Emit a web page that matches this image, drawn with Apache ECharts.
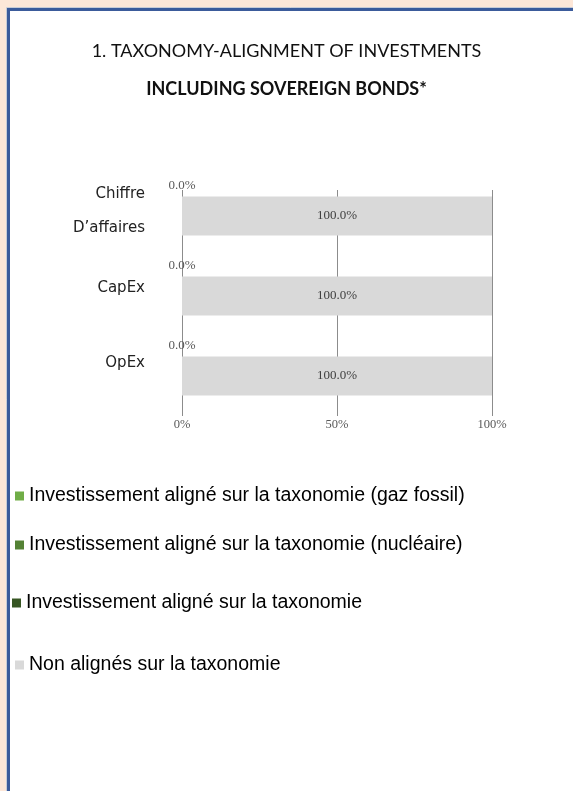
<!DOCTYPE html>
<html>
<head>
<meta charset="utf-8">
<script src="https://cdn.jsdelivr.net/npm/echarts@6/dist/echarts.min.js"></script>
<style>
  html, body { margin: 0; padding: 0; }
  #taxoChart { width: 573px; height: 791px; }
</style>
</head>
<body>
<div id="taxoChart"></div>
<script>
// categories (top to bottom) and shares in %
const categories = ["Chiffre\nD\u2019affaires", "CapEx", "OpEx"];
const gazFossil = [0, 0, 0];
const nucleaire = [0, 0, 0];
const aligne = [0, 0, 0];
const nonAligne = [100, 100, 100];
const tickLabels = ["0%", "50%", "100%"];

const seriesNames = [
  "Investissement aligné sur la taxonomie (gaz fossil)",
  "Investissement aligné sur la taxonomie (nucléaire)",
  "Investissement aligné sur la taxonomie",
  "Non alignés sur la taxonomie"
];

let chart = echarts.init(document.getElementById("taxoChart"));

function pct(p) {
  return p.value.toFixed(1) + "%";
}

function legendAt(name, left, top) {
  return {
    data: [name],
    orient: "vertical",
    left: left,
    top: top,
    icon: "rect",
    itemWidth: 9,
    itemHeight: 9,
    selectedMode: false,
    textStyle: {
      fontFamily: "Liberation Sans",
      fontSize: 19.5,
      color: "#000"
    }
  };
}

const option = {
  backgroundColor: "#fde7d8",
  animation: false,
  graphic: [
    {
      type: "rect",
      z: -10,
      shape: { x: 6.5, y: 7.5, width: 800, height: 900 },
      style: { fill: "none", stroke: "#c8ccd6", lineWidth: 1 }
    },
    {
      type: "rect",
      z: -9,
      shape: { x: 8.5, y: 9.5, width: 800, height: 900 },
      style: { fill: "#fff", stroke: "#3b5b9b", lineWidth: 3 }
    }
  ],
  title: {
    text: "1. TAXONOMY-ALIGNMENT OF INVESTMENTS",
    subtext: "INCLUDING SOVEREIGN BONDS*",
    left: "center",
    top: 36,
    itemGap: 18,
    textStyle: {
      fontFamily: "Lato",
      fontWeight: "normal",
      fontSize: 18,
      lineHeight: 20,
      color: "#111"
    },
    subtextStyle: {
      fontFamily: "Lato",
      fontWeight: "bold",
      fontSize: 18,
      lineHeight: 20,
      color: "#111"
    }
  },
  legend: [
    legendAt(seriesNames[0], 10, 481),
    legendAt(seriesNames[1], 10, 530),
    legendAt(seriesNames[2], 7, 588),
    legendAt(seriesNames[3], 10, 650)
  ],
  grid: [
    { left: 182, top: 176, width: 310, height: 240 },
    { left: 182, top: 190, width: 310, height: 226 }
  ],
  xAxis: [
    {
      type: "value",
      min: 0,
      max: 100,
      interval: 50,
      axisLine: { show: false },
      axisTick: { show: false },
      splitLine: { show: false },
      axisLabel: {
        margin: 2,
        fontFamily: "Liberation Serif",
        fontSize: 12.5,
        color: "#595959",
        formatter: function (v) {
          return tickLabels[Math.round(v / 50)];
        }
      }
    },
    {
      // gridlines only, they start just above the first bar
      type: "value",
      gridIndex: 1,
      min: 0,
      max: 100,
      interval: 50,
      axisLine: { show: false },
      axisTick: { show: false },
      axisLabel: { show: false },
      splitLine: { show: true, lineStyle: { color: "#8c8c8c", width: 1 } }
    }
  ],
  yAxis: [
    {
      type: "category",
      inverse: true,
      data: categories,
      axisLine: { show: false },
      axisTick: { show: false },
      axisLabel: {
        margin: 37,
        fontFamily: "DejaVu Sans",
        fontSize: 15,
        color: "#222",
        lineHeight: 34,
        formatter: function (v, i) {
          return v + "\n{g" + i + "| }";
        },
        rich: {
          g0: { fontSize: 1, lineHeight: 9 },
          g1: { fontSize: 1, lineHeight: 16 },
          g2: { fontSize: 1, lineHeight: 26 }
        }
      }
    },
    {
      type: "value",
      gridIndex: 1,
      show: false
    }
  ],
  series: [
    {
      name: seriesNames[0],
      type: "bar",
      stack: "total",
      barWidth: 39,
      data: gazFossil,
      itemStyle: { color: "#70ad47" },
      label: {
        show: true,
        position: "top",
        distance: 4,
        fontFamily: "Liberation Serif",
        fontSize: 13,
        color: "#595959",
        formatter: pct
      }
    },
    {
      name: seriesNames[1],
      type: "bar",
      stack: "total",
      data: nucleaire,
      itemStyle: { color: "#548235" }
    },
    {
      name: seriesNames[2],
      type: "bar",
      stack: "total",
      data: aligne,
      itemStyle: { color: "#375623" }
    },
    {
      name: seriesNames[3],
      type: "bar",
      stack: "total",
      data: nonAligne,
      itemStyle: { color: "#d9d9d9" },
      label: {
        show: true,
        position: "inside",
        fontFamily: "Liberation Serif",
        fontSize: 13,
        color: "#404040",
        formatter: pct
      }
    }
  ]
};

chart.setOption(option);

window.addEventListener("resize", function () {
  chart.resize();
});
</script>
</body>
</html>
